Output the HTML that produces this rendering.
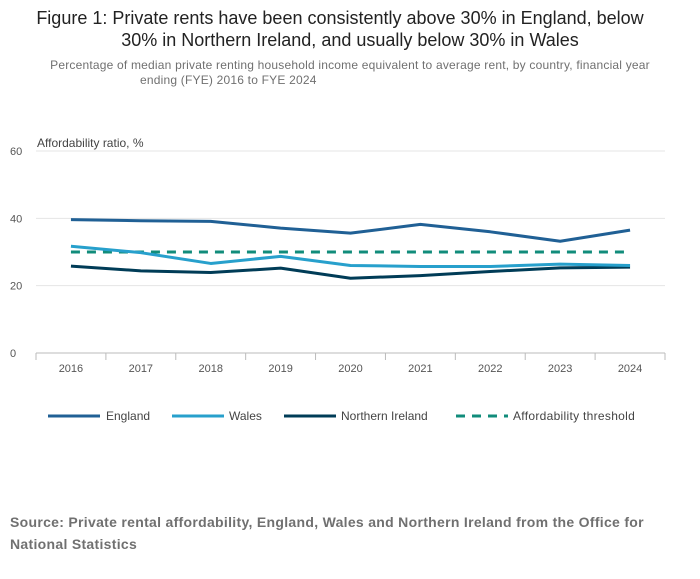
<!DOCTYPE html>
<html><head><meta charset="utf-8"><style>
body{margin:0;background:#fff;font-family:"Liberation Sans",sans-serif;}
</style></head><body>
<svg width="700" height="574" viewBox="0 0 700 574">
<text x="340" y="24" text-anchor="middle" font-size="18" fill="#222">Figure 1: Private rents have been consistently above 30% in England, below</text>
<text x="350" y="46" text-anchor="middle" font-size="18" fill="#222">30% in Northern Ireland, and usually below 30% in Wales</text>
<text x="350" y="69" text-anchor="middle" font-size="12" letter-spacing="0.2" fill="#707070">Percentage of median private renting household income equivalent to average rent, by country, financial year</text>
<text x="140" y="84" font-size="12" letter-spacing="0.2" fill="#707070">ending (FYE) 2016 to FYE 2024</text>
<text x="37" y="147" font-size="12" fill="#444">Affordability ratio, %</text>
<g id="grid"></g><g id="xaxis"></g><g id="series"></g>
<g font-size="12" fill="#444">
<line x1="48" y1="416" x2="100" y2="416" stroke="#206095" stroke-width="3"/><text x="106" y="420">England</text>
<line x1="172" y1="416" x2="224" y2="416" stroke="#27a0cc" stroke-width="3"/><text x="229" y="420">Wales</text>
<line x1="284" y1="416" x2="336" y2="416" stroke="#003c57" stroke-width="3"/><text x="341" y="420">Northern Ireland</text>
<line x1="456" y1="416" x2="508" y2="416" stroke="#118c7b" stroke-width="3" stroke-dasharray="9,7"/><text x="513" y="420" letter-spacing="0.3">Affordability threshold</text>
</g>
<text x="10" y="527" font-size="14" font-weight="bold" letter-spacing="0.3" fill="#707070">Source: Private rental affordability, England, Wales and Northern Ireland from the Office for</text>
<text x="10" y="549" font-size="14" font-weight="bold" letter-spacing="0.3" fill="#707070">National Statistics</text>
</svg>
<script>
const years=["2016","2017","2018","2019","2020","2021","2022","2023","2024"];
const england=[39.6,39.3,39.1,37.1,35.6,38.2,36.0,33.2,36.5];
const wales=[31.7,29.8,26.6,28.7,26.0,25.7,25.7,26.4,26.0];
const ni=[25.8,24.4,23.9,25.2,22.2,23.0,24.2,25.3,25.5];
const threshold=[30,30,30,30,30,30,30,30,30];
const yTicks=[0,20,40,60];
const NS="http://www.w3.org/2000/svg";
const x0=36,x1=665,y=v=>353-v*(202/60);
const step=(x1-x0)/years.length;
const x=i=>x0+step*(i+0.5);
function mk(t,a,p){const e=document.createElementNS(NS,t);for(const k in a)e.setAttribute(k,a[k]);p.appendChild(e);return e;}
const g=document.getElementById('grid');
yTicks.forEach(v=>{
 const l=mk('line',{x1:x0,x2:x1,y1:y(v),y2:y(v),stroke:v===0?'#bbb':'#e5e5e5'},g);
 
 
 const t=mk('text',{x:10,y:y(v)+4,'font-size':11,fill:'#555'},g);t.textContent=v;
 
 
});
const xa=document.getElementById('xaxis');
years.forEach((yr,i)=>{
 const tk=mk('line',{x1:x0+step*i,x2:x0+step*i,y1:353,y2:360,stroke:'#bbb'},xa);
 
 
 const t=mk('text',{x:x(i),y:372,'font-size':11,fill:'#555','text-anchor':'middle'},xa);t.textContent=yr;
 
 
});
mk('line',{x1:x1,x2:x1,y1:353,y2:360,stroke:'#bbb'},xa);
const s=document.getElementById('series');
[[threshold,'#118c7b','affordability-threshold-line',true],[ni,'#003c57','northern-ireland-line'],[wales,'#27a0cc','wales-line'],[england,'#206095','england-line']].forEach(([d,c,n,dash])=>{
 const p=mk('polyline',{points:d.map((v,i)=>x(i)+','+y(v)).join(' '),fill:'none',stroke:c,'stroke-width':3,'stroke-linejoin':'round'},s);
 if(dash)p.setAttribute('stroke-dasharray','9,7');
 
 
});
</script>
</body></html>
